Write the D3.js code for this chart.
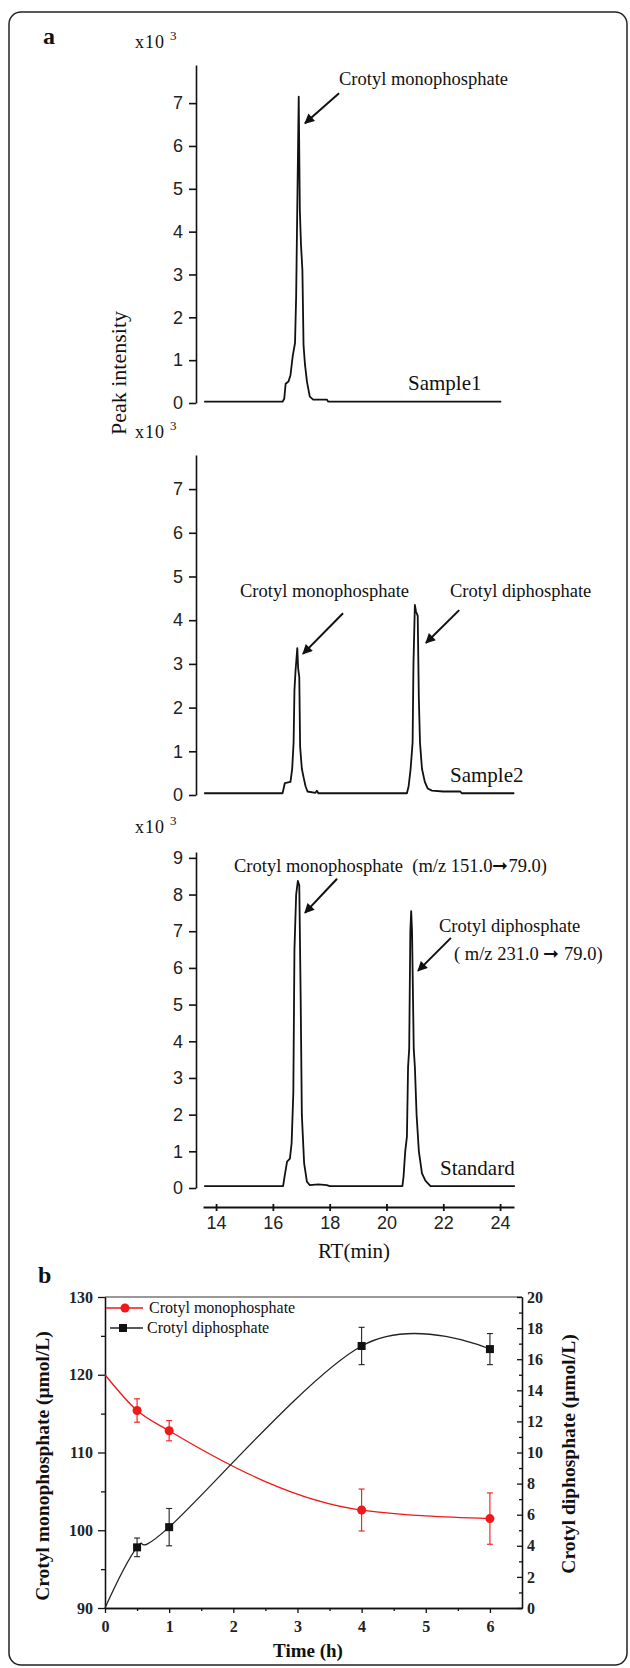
<!DOCTYPE html>
<html>
<head>
<meta charset="utf-8">
<script src="https://cdn.jsdelivr.net/npm/d3@7"></script>
<style>
  body { margin: 0; background: #fff; }
  svg text { font-family: "Liberation Serif", "Times New Roman", serif; fill: #111; }
</style>
</head>
<body>
<div id="chart"></div>
<script>
// ---------- data ----------
// panel a: chromatogram traces, [retention time (min), intensity (x10^3)]
let rtTicks = [14, 16, 18, 20, 22, 24];

let sample1Trace = [
    [13.58, 0.03], [16.34, 0.03], [16.40, 0.10], [16.45, 0.45], [16.55, 0.50], [16.62, 0.65],
    [16.70, 1.10], [16.78, 1.40], [16.82, 2.50], [16.86, 4.60], [16.91, 7.15], [16.95, 4.50],
    [16.99, 3.70], [17.04, 3.10], [17.08, 1.35], [17.13, 0.90], [17.20, 0.50], [17.30, 0.15],
    [17.42, 0.08], [17.90, 0.08], [17.95, 0.03], [24.04, 0.03]
];

let sample2Trace = [
    [13.58, 0.04], [16.34, 0.04], [16.38, 0.15], [16.42, 0.27], [16.62, 0.30], [16.68, 0.60],
    [16.73, 1.20], [16.76, 2.40], [16.80, 2.86], [16.86, 3.36], [16.89, 2.90], [16.93, 2.70],
    [16.96, 1.10], [17.02, 0.60], [17.08, 0.41], [17.15, 0.20], [17.22, 0.08], [17.50, 0.05],
    [17.55, 0.10], [17.60, 0.04], [20.72, 0.04], [20.78, 0.20], [20.85, 0.60], [20.92, 1.20],
    [20.95, 3.00], [21.00, 4.35], [21.04, 4.20], [21.10, 4.10], [21.14, 2.20], [21.18, 1.20],
    [21.25, 0.60], [21.35, 0.30], [21.45, 0.15], [21.60, 0.10], [22.00, 0.08], [22.60, 0.08],
    [22.65, 0.04], [24.50, 0.04]
];

let standardTrace = [
    [13.58, 0.05], [16.36, 0.05], [16.42, 0.35], [16.50, 0.72], [16.60, 0.80], [16.66, 1.22],
    [16.72, 2.59], [16.76, 6.50], [16.82, 8.00], [16.88, 8.37], [16.93, 8.25], [16.98, 5.10],
    [17.02, 2.00], [17.10, 0.68], [17.20, 0.17], [17.30, 0.08], [17.60, 0.10], [17.90, 0.08],
    [18.00, 0.05], [20.56, 0.05], [20.60, 0.30], [20.66, 1.00], [20.72, 1.40], [20.76, 3.30],
    [20.80, 3.80], [20.84, 7.00], [20.87, 7.55], [20.90, 7.00], [20.96, 3.80], [21.00, 3.30],
    [21.06, 2.00], [21.14, 1.00], [21.25, 0.40], [21.37, 0.20], [21.55, 0.05], [24.52, 0.05]
];

// panel b: time course
let timeH = [0, 0.5, 1, 4, 6];
let monoConc = [120, 115.4, 112.8, 102.6, 101.5];
let monoErr = [0, 1.5, 1.3, 2.7, 3.3];
let diConc = [0, 3.9, 5.2, 16.85, 16.65];
let diErr = [0, 0.6, 1.2, 1.2, 1.0];

let timeTicks = [0, 1, 2, 3, 4, 5, 6];
let monoTicks = [90, 100, 110, 120, 130];
let diTicks = [0, 2, 4, 6, 8, 10, 12, 14, 16, 18, 20];

// ---------- layout ----------
let WIDTH = 630, HEIGHT = 1668;

let svg = d3.select("#chart")
    .append("svg")
    .attr("width", WIDTH)
    .attr("height", HEIGHT);

// rounded outer frame
svg.append("rect")
    .attr("x", 9).attr("y", 12)
    .attr("width", 618).attr("height", 1653)
    .attr("rx", 12)
    .attr("fill", "none")
    .attr("stroke", "#222")
    .attr("stroke-width", 1.5);

// arrowhead for annotations
svg.append("defs").append("marker")
    .attr("id", "head")
    .attr("viewBox", "0 0 10 10")
    .attr("refX", 9).attr("refY", 5)
    .attr("markerUnits", "userSpaceOnUse")
    .attr("markerWidth", 12).attr("markerHeight", 10)
    .attr("orient", "auto")
    .append("path")
    .attr("d", "M0,0 L10,5 L0,10 z")
    .attr("fill", "#111");

// ================= panel a =================
svg.append("text")
    .attr("x", 43).attr("y", 44)
    .style("font-size", "24px").style("font-weight", "bold")
    .text("a");

// shared retention-time axis
let x_rt = d3.scaleLinear().domain([13.54, 24.49]).range([203, 514]);

let panels = [
    {trace: sample1Trace, zero: 403, top: 65, max: 7.89, ticks: d3.range(0, 8), name: "Sample1",
        nameX: 408, nameY: 390, expY: 48,
        notes: [{lines: ["Crotyl monophosphate"], x: 339, y: 85, from: [18.33, 7.23], to: [17.13, 6.53]}]},
    {trace: sample2Trace, zero: 795, top: 455, max: 7.78, ticks: d3.range(0, 8), name: "Sample2",
        nameX: 450, nameY: 782, expY: 438,
        notes: [{lines: ["Crotyl monophosphate"], x: 240, y: 597, from: [18.47, 4.16], to: [17.06, 3.23]},
                {lines: ["Crotyl diphosphate"], x: 450, y: 597, from: [22.56, 4.23], to: [21.39, 3.48]}]},
    {trace: standardTrace, zero: 1188, top: 852, max: 9.16, ticks: d3.range(0, 10), name: "Standard",
        nameX: 440, nameY: 1175, expY: 833,
        notes: [{lines: ["Crotyl monophosphate  (m/z 151.0\u279E79.0)"], x: 234, y: 872, from: [18.26, 8.43], to: [17.13, 7.5]},
                {lines: ["Crotyl diphosphate", "( m/z 231.0 \u279E 79.0)"], x: 439, y: 932, dx2: 15, from: [22.27, 6.82], to: [21.11, 5.92]}]}
];

panels.forEach(function(p) {
    let y = d3.scaleLinear().domain([0, p.max]).range([p.zero, p.top]);
    let g = svg.append("g");

    // y axis with outward ticks
    let yAxis = g.append("g")
        .attr("transform", "translate(196,0)")
        .call(d3.axisLeft(y).tickValues(p.ticks).tickSize(7).tickPadding(6).tickSizeOuter(0));
    yAxis.selectAll("text")
        .style("font-family", "'Liberation Sans', Arial, sans-serif")
        .style("font-size", "18px")
        .style("fill", "#222");
    yAxis.selectAll("line, path").attr("stroke", "#111").attr("stroke-width", 1.6);

    // x10^3 multiplier
    let exp = g.append("text")
        .attr("x", 135).attr("y", p.expY)
        .style("font-size", "18px").style("letter-spacing", "1px");
    exp.append("tspan").text("x10");
    exp.append("tspan").attr("dx", 5).attr("dy", -8).style("font-size", "13px").text("3");

    // chromatogram trace
    g.append("path")
        .datum(p.trace)
        .attr("fill", "none")
        .attr("stroke", "#111")
        .attr("stroke-width", 1.8)
        .attr("stroke-linejoin", "round")
        .attr("d", d3.line()
            .x(function(d) { return x_rt(d[0]); })
            .y(function(d) { return y(d[1]); }));

    // sample name
    g.append("text")
        .attr("x", p.nameX).attr("y", p.nameY)
        .style("font-size", "21px")
        .text(p.name);

    // peak annotations with arrows
    p.notes.forEach(function(n) {
        n.lines.forEach(function(line, i) {
            g.append("text")
                .attr("x", n.x + (i > 0 ? n.dx2 : 0))
                .attr("y", n.y + i * 28)
                .style("font-size", "18.5px")
                .style("white-space", "pre")
                .text(line);
        });
        g.append("line")
            .attr("x1", x_rt(n.from[0])).attr("y1", y(n.from[1]))
            .attr("x2", x_rt(n.to[0])).attr("y2", y(n.to[1]))
            .attr("stroke", "#111")
            .attr("stroke-width", 2)
            .attr("marker-end", "url(#head)");
    });
});

// retention time axis under the last panel
let xAxis = svg.append("g")
    .attr("transform", "translate(0,1207)")
    .call(d3.axisBottom(x_rt).tickValues(rtTicks).tickSize(4).tickPadding(5).tickSizeOuter(0));
xAxis.selectAll(".tick line").attr("y1", -3).attr("y2", 4);
xAxis.selectAll("line, path").attr("stroke", "#111").attr("stroke-width", 1.8);
xAxis.selectAll("text")
    .style("font-family", "'Liberation Sans', Arial, sans-serif")
    .style("font-size", "18px")
    .style("fill", "#222");

svg.append("text")
    .attr("x", 354).attr("y", 1258)
    .style("text-anchor", "middle")
    .style("font-size", "21px")
    .text("RT(min)");

// shared y label
svg.append("text")
    .attr("transform", "translate(126,373) rotate(-90)")
    .style("text-anchor", "middle")
    .style("font-size", "22px")
    .text("Peak intensity");

// ================= panel b =================
svg.append("text")
    .attr("x", 38).attr("y", 1283)
    .style("font-size", "24px").style("font-weight", "bold")
    .text("b");

let x_time = d3.scaleLinear().domain([0, 6.5]).range([105, 522]);
let y_mono = d3.scaleLinear().domain([90, 130]).range([1608, 1297]);
let y_di = d3.scaleLinear().domain([0, 20]).range([1608, 1297]);

let boldTicks = function(sel) {
    sel.selectAll("text")
        .style("font-family", "'Liberation Serif', 'Times New Roman', serif")
        .style("font-weight", "bold")
        .style("font-size", "16px")
        .style("fill", "#222");
    sel.selectAll("line, path").attr("stroke", "#111").attr("stroke-width", 1.3);
};

// top frame line
svg.append("line")
    .attr("x1", x_time(0)).attr("x2", x_time(6.5))
    .attr("y1", y_mono(130)).attr("y2", y_mono(130))
    .attr("stroke", "#777").attr("stroke-width", 1.5);

// bottom axis, major + minor ticks
svg.append("g").attr("transform", "translate(0,1608)")
    .call(d3.axisBottom(x_time).tickValues(d3.range(0.5, 6.5, 1)).tickSize(3).tickFormat("").tickSizeOuter(0))
    .call(boldTicks);
svg.append("g").attr("transform", "translate(0,1608)")
    .call(d3.axisBottom(x_time).tickValues(timeTicks).tickFormat(d3.format("d"))
        .tickSize(5).tickPadding(8).tickSizeOuter(0))
    .call(boldTicks);

// left axis
svg.append("g").attr("transform", "translate(105,0)")
    .call(d3.axisLeft(y_mono).tickValues([95, 105, 115, 125]).tickSize(4).tickFormat("").tickSizeOuter(0))
    .call(boldTicks);
svg.append("g").attr("transform", "translate(105,0)")
    .call(d3.axisLeft(y_mono).tickValues(monoTicks).tickSize(7).tickPadding(5).tickSizeOuter(0))
    .call(boldTicks);

// right axis (ticks point inward)
svg.append("g").attr("transform", "translate(522,0)")
    .call(d3.axisRight(y_di).tickValues(d3.range(1, 20, 2)).tickSize(-3).tickFormat("").tickSizeOuter(0))
    .call(boldTicks);
svg.append("g").attr("transform", "translate(522,0)")
    .call(d3.axisRight(y_di).tickValues(diTicks).tickSize(-5).tickPadding(5).tickSizeOuter(0))
    .call(boldTicks);

// axis titles
svg.append("text")
    .attr("transform", "translate(49,1466) rotate(-90)")
    .style("text-anchor", "middle")
    .style("font-size", "19.5px").style("font-weight", "bold")
    .text("Crotyl monophosphate (\u03BCmol/L)");
svg.append("text")
    .attr("transform", "translate(575,1454) rotate(-90)")
    .style("text-anchor", "middle")
    .style("font-size", "19.5px").style("font-weight", "bold")
    .text("Crotyl diphosphate (\u03BCmol/L)");
svg.append("text")
    .attr("x", 308).attr("y", 1657)
    .style("text-anchor", "middle")
    .style("font-size", "19px").style("font-weight", "bold")
    .text("Time (h)");

// series
let monoData = timeH.map(function(t, i) { return {t: t, v: monoConc[i], e: monoErr[i]}; });
let diData = timeH.map(function(t, i) { return {t: t, v: diConc[i], e: diErr[i]}; });

let series = [
    {data: monoData, y: y_mono, color: "#f01818", curve: d3.curveMonotoneX, shape: "circle"},
    {data: diData, y: y_di, color: "#222", curve: d3.curveCardinal.tension(0), shape: "square"}
];

series.forEach(function(s) {
    svg.append("path")
        .datum(s.data)
        .attr("fill", "none")
        .attr("stroke", s.color)
        .attr("stroke-width", 1.3)
        .attr("d", d3.line()
            .curve(s.curve)
            .x(function(d) { return x_time(d.t); })
            .y(function(d) { return s.y(d.v); }));

    let pts = s.data.filter(function(d) { return d.t > 0; });
    let eb = svg.append("g").attr("stroke", s.color).attr("stroke-width", 1.1);
    pts.forEach(function(d) {
        let cx = x_time(d.t);
        eb.append("line").attr("x1", cx).attr("x2", cx)
            .attr("y1", s.y(d.v - d.e)).attr("y2", s.y(d.v + d.e));
        [d.v - d.e, d.v + d.e].forEach(function(v) {
            eb.append("line").attr("x1", cx - 3).attr("x2", cx + 3)
                .attr("y1", s.y(v)).attr("y2", s.y(v));
        });
    });

    if (s.shape === "circle") {
        svg.selectAll(null).data(pts).enter().append("circle")
            .attr("cx", function(d) { return x_time(d.t); })
            .attr("cy", function(d) { return s.y(d.v); })
            .attr("r", 4.5)
            .attr("fill", s.color);
    } else {
        svg.selectAll(null).data(pts).enter().append("rect")
            .attr("x", function(d) { return x_time(d.t) - 4; })
            .attr("y", function(d) { return s.y(d.v) - 4; })
            .attr("width", 8).attr("height", 8)
            .attr("fill", "#111");
    }
});

// legend
let legend = svg.append("g");
legend.append("line").attr("x1", 106).attr("x2", 143).attr("y1", 1308).attr("y2", 1308)
    .attr("stroke", "#f01818").attr("stroke-width", 1.3);
legend.append("circle").attr("cx", 125).attr("cy", 1308).attr("r", 4.5).attr("fill", "#f01818");
legend.append("text").attr("x", 149).attr("y", 1313).style("font-size", "16px")
    .text("Crotyl monophosphate");
legend.append("line").attr("x1", 110).attr("x2", 143).attr("y1", 1328).attr("y2", 1328)
    .attr("stroke", "#222").attr("stroke-width", 1.3);
legend.append("rect").attr("x", 119).attr("y", 1324).attr("width", 8).attr("height", 8).attr("fill", "#111");
legend.append("text").attr("x", 147).attr("y", 1333).style("font-size", "16px")
    .text("Crotyl diphosphate");
</script>
</body>
</html>
